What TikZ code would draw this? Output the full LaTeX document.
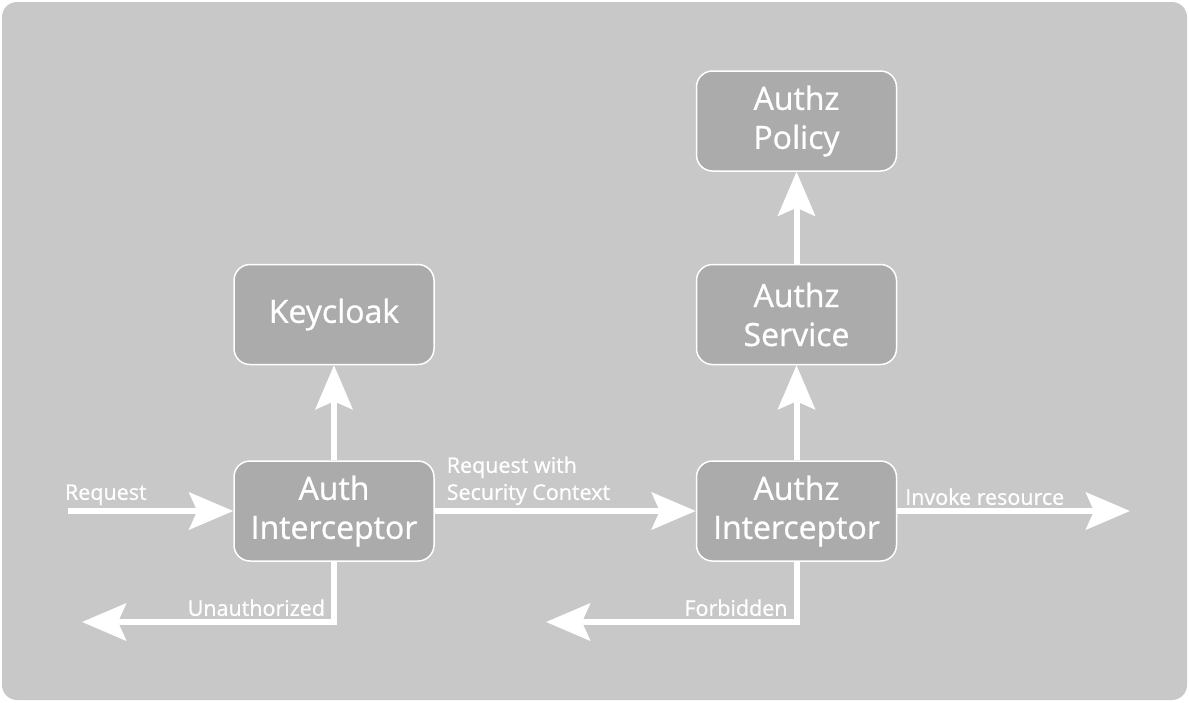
\documentclass[tikz,border=0pt]{standalone}
\usepackage{fontspec}
\setmainfont{Open Sans}[UprightFeatures={FakeBold=0.9}]
\usetikzlibrary{arrows.meta,positioning}

\definecolor{bggray}{RGB}{200,200,200}
\definecolor{boxgray}{RGB}{171,171,171}

\begin{document}
\begin{tikzpicture}[
  x=1pt, y=-1pt,
  flow/.style={-{Stealth[length=44pt,width=37pt,inset=8pt]}, line width=6pt, draw=white},
  box/.style={
    rectangle,
    rounded corners=16pt,
    fill=boxgray,
    draw=white,
    line width=1.5pt,
    minimum width=200pt,
    minimum height=100pt,
    align=center,
    text=white,
    font=\fontsize{32}{39}\selectfont
  },
  lbl/.style={text=white, inner sep=3pt, align=left, font=\fontsize{21.5}{27}\selectfont}
]
  \useasboundingbox (0,0) rectangle (1189,702);
  \fill[bggray, rounded corners=15pt] (2,2) rectangle (1187,700);

  \node[box] (auth) at (334,511) {Auth\\Interceptor};
  \node[box, above=95pt of auth] (keycloak) {Keycloak};
  \node[box, right=261pt of auth] (authz) {Authz\\Interceptor};
  \node[box, above=95pt of authz] (service) {Authz\\Service};
  \node[box, above=92pt of service] (policy) {Authz\\Policy};

  \coordinate (reqin) at (68,511);
  \coordinate (invoke) at (1130,511);
  \coordinate (unauth) at (82,622);
  \coordinate (forbid) at (546,622);

  \draw[flow] (reqin) -- node[lbl, above right, pos=0, xshift=-9pt] {Request} (auth);
  \draw[flow] (auth) -- (keycloak);
  \draw[flow] (auth) -- node[lbl, above right, pos=0, xshift=6pt] {Request with\\Security Context} (authz);
  \draw[flow] (authz) -- (service);
  \draw[flow] (service) -- (policy);
  \draw[flow] (authz) -- node[lbl, above right, pos=0, xshift=2pt] {Invoke resource} (invoke);
  \draw[flow] (auth.south) |- node[lbl, above left, pos=0.5, xshift=-3pt] {Unauthorized} (unauth);
  \draw[flow] (authz.south) |- node[lbl, above left, pos=0.5, xshift=-3pt] {Forbidden} (forbid);
\end{tikzpicture}
\end{document}
